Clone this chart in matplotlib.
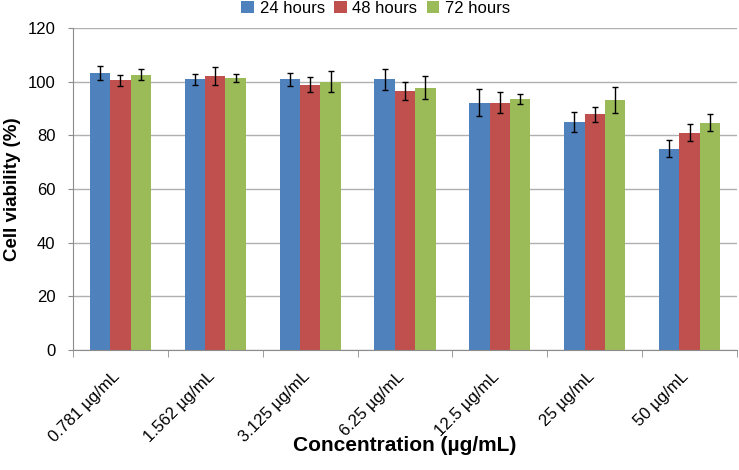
import matplotlib.pyplot as plt
import matplotlib.transforms as mtransforms
import numpy as np

plt.rcParams['font.family'] = ['Liberation Sans', 'DejaVu Sans']

# data
concentrations = ['0.781 µg/mL', '1.562 µg/mL', '3.125 µg/mL', '6.25 µg/mL',
                  '12.5 µg/mL', '25 µg/mL', '50 µg/mL']
series = ['24 hours', '48 hours', '72 hours']
viab_24 = [103.2, 100.9, 100.9, 100.9, 92.2, 85.0, 75.0]
viab_48 = [100.5, 102.0, 98.9, 96.4, 92.2, 87.8, 81.0]
viab_72 = [102.6, 101.2, 99.9, 97.8, 93.5, 93.2, 84.7]
err_24 = [2.6, 2.0, 2.4, 3.9, 5.0, 3.6, 3.2]
err_48 = [2.0, 3.4, 2.7, 3.4, 3.8, 2.9, 3.2]
err_72 = [2.0, 1.5, 3.9, 4.4, 2.0, 4.7, 3.2]
colors = ['#4F81BD', '#C0504D', '#9BBB59']

fig = plt.figure(figsize=(7.39, 4.70), dpi=100)
ax = fig.add_axes([73 / 739, 1 - 350 / 470, 664 / 739, 322 / 470])

x = np.arange(len(concentrations))
w = 0.215
for i, (vals, errs) in enumerate(zip([viab_24, viab_48, viab_72], [err_24, err_48, err_72])):
    ax.bar(x + (i - 1) * w, vals, w, color=colors[i], label=series[i], zorder=2,
           yerr=errs, error_kw=dict(ecolor='black', elinewidth=1, capsize=2.5, capthick=1))

ax.set_xlim(-0.5, len(concentrations) - 0.5)
ax.set_ylim(0, 120)
ax.set_yticks(np.arange(0, 121, 20))
ax.yaxis.grid(True, color='#b0b0b0', linewidth=1, zorder=0)
ax.set_axisbelow(True)
for s in ['top', 'right']:
    ax.spines[s].set_visible(False)
for s in ['left', 'bottom']:
    ax.spines[s].set_color('#8c8c8c')

ax.set_xticks(x)
ax.set_xticklabels(concentrations, rotation=45, ha='right', va='center',
                   rotation_mode='anchor', fontsize=12)
ax.set_xticks(np.arange(-0.5, len(concentrations), 1), minor=True)
ax.tick_params(axis='x', which='major', length=0, pad=0)
ax.tick_params(axis='x', which='minor', length=5, color='#8c8c8c')
ax.tick_params(axis='y', length=3.6, color='#8c8c8c', labelsize=12, pad=9)
offset = mtransforms.ScaledTranslation(-0.03, -0.24, fig.dpi_scale_trans)
for lbl in ax.get_xticklabels():
    lbl.set_transform(lbl.get_transform() + offset)

ax.set_ylabel('Cell viability (%)', fontsize=13.5, fontweight='bold', labelpad=5)
ax.set_xlabel('Concentration (µg/mL)', fontsize=15, fontweight='bold', va='center')
ax.xaxis.set_label_coords(0.5, -0.298)

ax.legend(loc='center', bbox_to_anchor=(0.456, 1.062), ncol=3, frameon=False,
          fontsize=12, handlelength=0.75, handleheight=0.75, handletextpad=0.35,
          columnspacing=0.55, borderpad=0, borderaxespad=0)

fig.savefig('out.png', dpi=100)
